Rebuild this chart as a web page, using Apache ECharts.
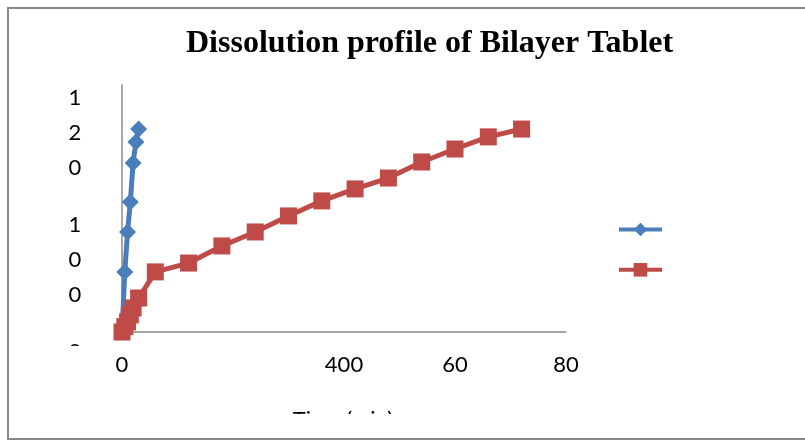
<!DOCTYPE html>
<html>
<head>
<meta charset="utf-8">
<script src="https://cdn.jsdelivr.net/npm/echarts@6/dist/echarts.min.js"></script>
<style>html,body{margin:0;padding:0;background:#fff;}#c{width:805px;height:441px;}</style>
</head>
<body>
<div id="c"></div>
<script>
// ---- data ----
const titleText = 'Dissolution profile of Bilayer Tablet';
const xAxisTitle = 'Time (min)';
const seriesNames = ['Immediate release layer', 'Sustained release layer'];
const blueTime = [0, 5, 10, 15, 20, 25, 30];
const blueRelease = [0, 29.2, 48.6, 63.2, 82.1, 92.3, 98.6];
const redTime = [0, 5, 10, 15, 20, 30, 60, 120, 180, 240, 300, 360, 420, 480, 540, 600, 660, 720];
const redRelease = [0, 2.6, 4.9, 8.3, 11.7, 16.5, 29.2, 33.5, 41.8, 48.6, 56.4, 63.7, 69.5, 74.8, 82.6, 88.9, 94.8, 98.6];
const xTickValues = [0, 200, 400, 600, 800];
const xTickLabels = ['0', '', '400', '60', '80'];
const yLabelBlocks = [['1', '2', '0'], ['1', '0', '0'], ['0']];

const chart = echarts.init(document.getElementById('c'), null, {renderer: 'canvas'});
const pair = (xs, ys) => xs.map((x, i) => [x, ys[i]]);
const labelFont = 'Lato, "Liberation Sans", sans-serif';
const blue = '#4A7EBB';
const red = '#BE4B48';

const graphics = [];
// chart border
graphics.push({type: 'rect', z: 0, shape: {x: 8, y: 8, width: 900, height: 431},
  style: {fill: 'none', stroke: '#898989', lineWidth: 2}, silent: true});
// garbled y labels (wrapped vertically)
const blockTops = [98, 225, 352];
yLabelBlocks.forEach((blk, bi) => {
  blk.forEach((ch, ci) => {
    graphics.push({type: 'text', z: 10, x: 75, y: blockTops[bi] + ci * 35,
      style: {text: ch, font: '22px ' + labelFont, fill: '#000', align: 'center', verticalAlign: 'middle'}});
  });
});
// mask hiding clipped bottom glyph
graphics.push({type: 'rect', z: 20, shape: {x: 55, y: 346, width: 45, height: 30}, style: {fill: '#fff'}});
// x axis title (clipped)
graphics.push({type: 'text', z: 10, x: 343, y: 420,
  style: {text: xAxisTitle, font: '22px ' + labelFont, fill: '#000', align: 'center', verticalAlign: 'middle'}});
graphics.push({type: 'rect', z: 20, shape: {x: 280, y: 414, width: 130, height: 23}, style: {fill: '#fff'}});

const option = {
  backgroundColor: '#fff',
  animation: false,
  title: {
    text: titleText, left: 186, top: 28, padding: 0,
    textStyle: {fontFamily: '"Liberation Serif", "DejaVu Serif", serif', fontWeight: 'bold', fontSize: 32, color: '#000'}
  },
  legend: {
    orient: 'vertical', left: 617, top: 221, padding: 0, itemWidth: 43, itemHeight: 17, itemGap: 25,
    lineStyle: {width: 4},
    formatter: () => '', data: seriesNames
  },
  grid: {left: 122, top: 85, right: 239, bottom: 109, containLabel: false},
  xAxis: {
    type: 'value', min: 0, max: 800, interval: 200,
    axisLine: {show: true, lineStyle: {color: '#8a8a8a', width: 1.5}},
    axisTick: {show: false},
    splitLine: {show: false},
    axisLabel: {
      margin: 22, fontSize: 22, fontFamily: labelFont, color: '#000',
      formatter: v => { const i = xTickValues.indexOf(v); return i >= 0 ? xTickLabels[i] : ''; }
    }
  },
  yAxis: {
    type: 'value', min: 0, max: 120, interval: 20,
    axisLine: {show: true, onZero: false, lineStyle: {color: '#8a8a8a', width: 1.5}},
    axisTick: {show: false},
    splitLine: {show: false},
    axisLabel: {show: false}
  },
  series: [
    {name: seriesNames[0], type: 'line', data: pair(blueTime, blueRelease),
      symbol: 'diamond', symbolSize: 17, color: blue,
      lineStyle: {width: 5, color: blue}, itemStyle: {color: blue}},
    {name: seriesNames[1], type: 'line', data: pair(redTime, redRelease),
      symbol: 'rect', symbolSize: 17, color: red,
      lineStyle: {width: 5, color: red}, itemStyle: {color: red}}
  ],
  graphic: graphics
};
chart.setOption(option);
</script>
</body>
</html>
